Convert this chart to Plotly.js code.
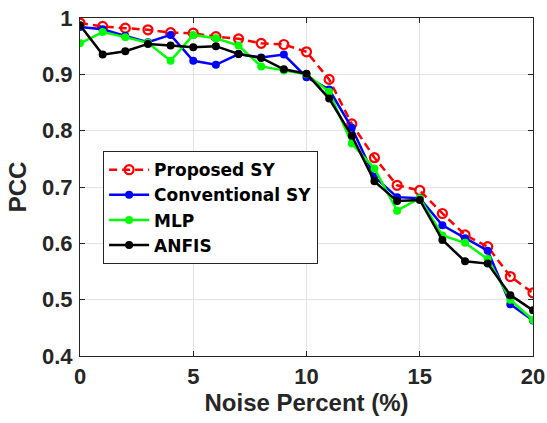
<!DOCTYPE html>
<html>
<head>
<meta charset="utf-8">
<script src="https://cdn.plot.ly/plotly-3.0.1.min.js"></script>
<style>
  html, body { margin: 0; padding: 0; background: #fff; }
  #chart { width: 547px; height: 423px; }
</style>
</head>
<body>
<div id="chart"></div>
<script>
// Noise level in percent
const noisePercent = [0, 1, 2, 3, 4, 5, 6, 7, 8, 9, 10, 11, 12, 13, 14, 15, 16, 17, 18, 19, 20];

// Pearson correlation coefficient for each method
const proposedSY = [0.991, 0.985, 0.982, 0.979, 0.974, 0.973, 0.967, 0.963, 0.955, 0.953, 0.940,
                    0.891, 0.812, 0.752, 0.703, 0.694, 0.653, 0.615, 0.594, 0.541, 0.512];
const conventionalSY = [0.984, 0.980, 0.968, 0.957, 0.970, 0.924, 0.917, 0.936, 0.930, 0.935, 0.895,
                        0.873, 0.805, 0.718, 0.682, 0.680, 0.632, 0.609, 0.587, 0.492, 0.463];
const mlp = [0.955, 0.975, 0.966, 0.956, 0.924, 0.970, 0.964, 0.951, 0.914, 0.907, 0.900,
             0.869, 0.777, 0.733, 0.658, 0.680, 0.614, 0.601, 0.572, 0.500, 0.464];
const anfis = [0.987, 0.935, 0.941, 0.954, 0.951, 0.948, 0.950, 0.936, 0.929, 0.909, 0.901,
               0.857, 0.791, 0.710, 0.675, 0.677, 0.606, 0.568, 0.564, 0.508, 0.481];

const seriesNames = ['Proposed SY', 'Conventional SY', 'MLP', 'ANFIS'];
const xTickVals = [0, 5, 10, 15, 20];
const yTickVals = [0.4, 0.5, 0.6, 0.7, 0.8, 0.9, 1];
const yTickText = ['0.4', '0.5', '0.6', '0.7', '0.8', '0.9', '1'];

const FONT = 'Liberation Sans, Arial, Helvetica, sans-serif';
const LEGEND_FONT = 'DejaVu Sans, Liberation Sans, Arial, sans-serif';
const INK = '#262626';

function solidTrace(y, name, color) {
  return {
    x: noisePercent, y: y, name: name, type: 'scatter', mode: 'lines+markers',
    line: { color: color, width: 2.5 },
    marker: { color: color, size: 8, symbol: 'circle' }
  };
}

const traces = [
  {
    x: noisePercent, y: proposedSY, name: seriesNames[0], type: 'scatter', mode: 'lines+markers',
    line: { color: '#ff0000', width: 2.5, dash: '8px,5px' },
    marker: { symbol: 'circle-open', size: 9, color: '#ff0000', line: { width: 2.2, color: '#ff0000' } }
  },
  solidTrace(conventionalSY, seriesNames[1], '#0000ff'),
  solidTrace(mlp, seriesNames[2], '#00ff00'),
  solidTrace(anfis, seriesNames[3], '#000000')
];

const axisCommon = {
  showline: true, linecolor: INK, linewidth: 1, mirror: 'ticks',
  ticks: 'inside', ticklen: 5, tickwidth: 1, tickcolor: INK,
  showgrid: true, gridcolor: '#e3e3e3', gridwidth: 1,
  zeroline: false,
  tickfont: { family: FONT, size: 22, color: INK, weight: 'bold' }
};

const layout = {
  width: 547, height: 423,
  margin: { l: 80, r: 14, t: 18, b: 67 },
  paper_bgcolor: '#ffffff', plot_bgcolor: '#ffffff',
  showlegend: true,
  xaxis: Object.assign({}, axisCommon, {
    range: [0, 20], tickvals: xTickVals, ticktext: xTickVals.map(String),
    ticklabelstandoff: 1,
    title: { text: 'Noise Percent (%)', font: { family: FONT, size: 24, color: INK, weight: 'bold' }, standoff: 4 }
  }),
  yaxis: Object.assign({}, axisCommon, {
    range: [0.4, 1], tickvals: yTickVals, ticktext: yTickText,
    ticklabelstandoff: 2,
    title: { text: 'PCC', font: { family: FONT, size: 24, color: INK, weight: 'bold' }, standoff: 8 }
  }),
  legend: {
    x: 0.051, y: 0.606, xanchor: 'left', yanchor: 'top',
    bgcolor: '#ffffff', bordercolor: INK, borderwidth: 1,
    font: { family: LEGEND_FONT, size: 17, color: '#000000', weight: 'bold' },
    itemwidth: 40,
    tracegroupgap: 0
  }
};

Plotly.newPlot('chart', traces, layout, { displayModeBar: false, staticPlot: true });
</script>
</body>
</html>
